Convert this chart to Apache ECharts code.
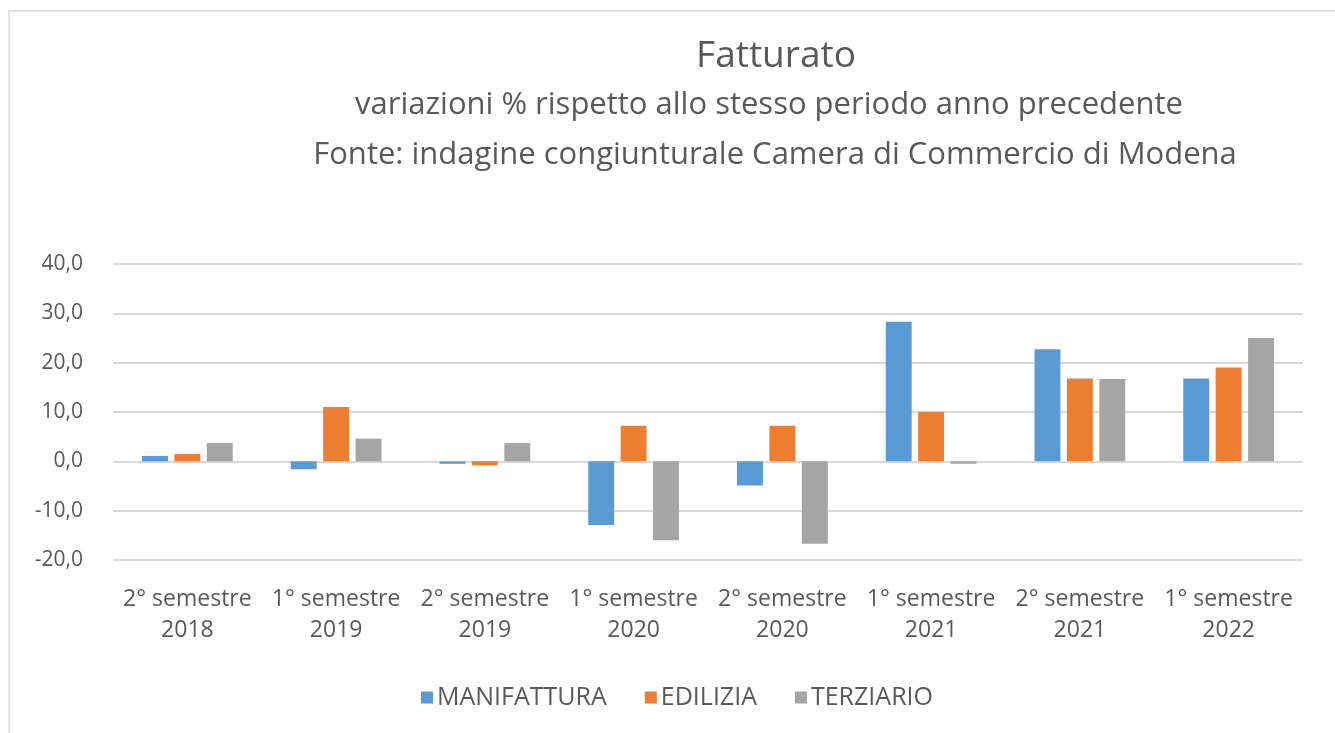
<!DOCTYPE html>
<html><head><meta charset="utf-8">
<script src="https://cdn.jsdelivr.net/npm/echarts@6/dist/echarts.min.js"></script>
<style>
html,body{margin:0;padding:0;background:#fff;}
#frame{position:absolute;left:8px;top:10px;width:1340px;height:740px;border-left:2px solid #e3e3e3;border-top:2px solid #e3e3e3;}
#c{position:absolute;left:0;top:0;width:1335px;height:733px;}
</style></head>
<body><div id="frame"></div><div id="c"></div>
<script>
const categories = ['2° semestre\n2018','1° semestre\n2019','2° semestre\n2019','1° semestre\n2020','2° semestre\n2020','1° semestre\n2021','2° semestre\n2021','1° semestre\n2022'];
const manifattura = [1.1, -1.6, -0.5, -12.9, -4.9, 28.3, 22.7, 16.8];
const edilizia = [1.5, 11.0, -0.8, 7.2, 7.2, 10.0, 16.8, 19.0];
const terziario = [3.7, 4.6, 3.7, -16.0, -16.7, -0.5, 16.7, 25.0];
const titleText = 'Fatturato';
const subLine1 = 'variazioni % rispetto allo stesso periodo anno precedente';
const subLine2 = 'Fonte: indagine congiunturale Camera di Commercio di Modena';

const font = 'Open Sans';
const chart = echarts.init(document.getElementById('c'));
const mk = (name, data, color) => ({name, type:'bar', data, itemStyle:{color}, barGap:'25%', barCategoryGap:'39%'});
chart.setOption({
  animation:false,
  textStyle:{fontFamily:font},
  title:[
    {text:titleText, left:771, top:33, textAlign:'center', textStyle:{fontFamily:font,fontSize:37,fontWeight:'normal',color:'#595959'}},
    {text:subLine1, left:764, top:85, textAlign:'center', textStyle:{fontFamily:font,fontSize:31,fontWeight:'normal',color:'#595959'}},
    {text:subLine2, left:770, top:135, textAlign:'center', textStyle:{fontFamily:font,fontSize:31,fontWeight:'normal',color:'#595959'}}
  ],
  legend:{top:680, left:416, itemWidth:12, itemHeight:12, itemGap:38, icon:'rect',
    textStyle:{fontFamily:font,fontSize:25,color:'#595959',padding:[0,0,0,-1]}},
  grid:{left:113, right:32, top:264, bottom:173},
  xAxis:{type:'category', data:categories,
    axisLine:{show:false}, axisTick:{show:false},
    axisLabel:{fontFamily:font,fontSize:23,color:'#595959',lineHeight:31,margin:24,interval:0}},
  yAxis:{type:'value', min:-20, max:40, interval:10,
    axisLine:{show:false}, axisTick:{show:false},
    splitLine:{lineStyle:{color:'#d9d9d9',width:2}},
    axisLabel:{fontFamily:font,fontSize:21,color:'#595959',margin:30,
      formatter:v=>v.toFixed(1).replace('.',',')}},
  series:[mk('MANIFATTURA',manifattura,'#5B9BD5'),mk('EDILIZIA',edilizia,'#ED7D31'),mk('TERZIARIO',terziario,'#A5A5A5')]
});
</script></body></html>
